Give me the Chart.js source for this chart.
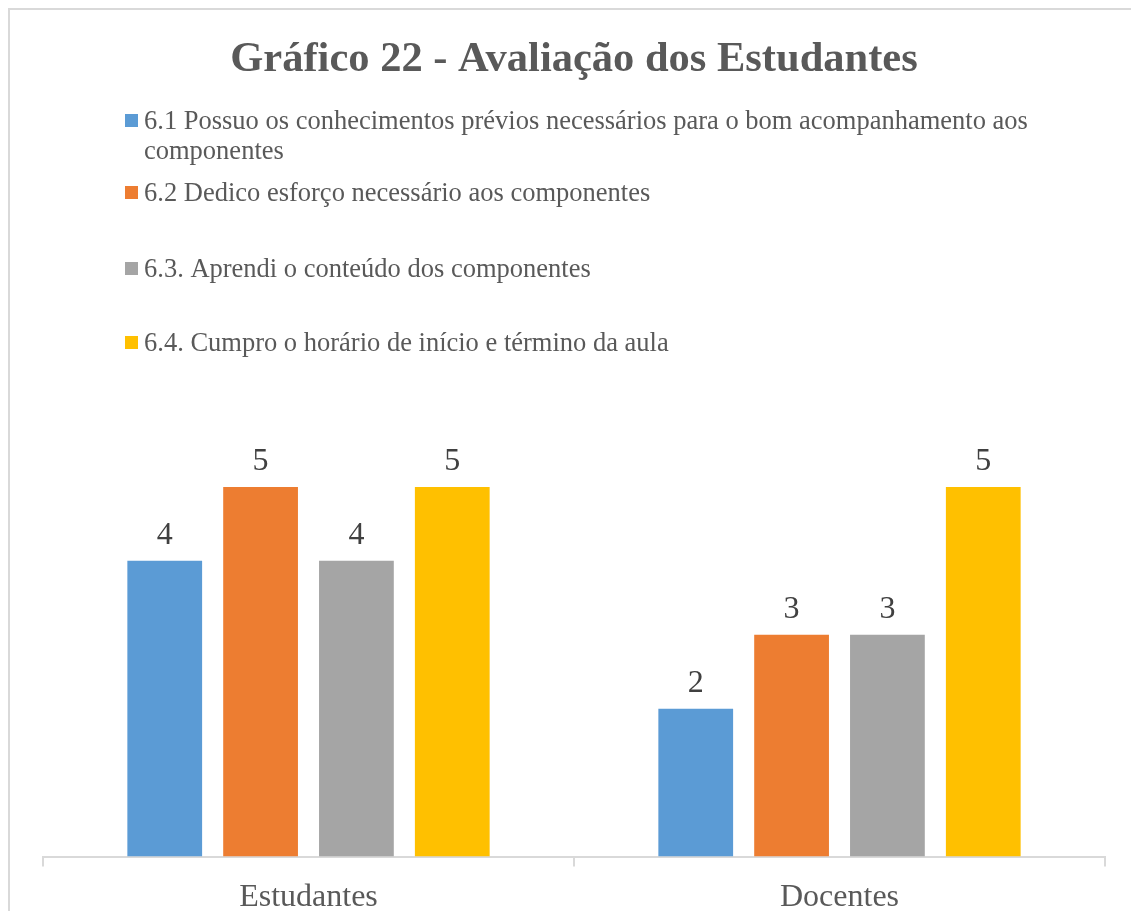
<!DOCTYPE html>
<html>
<head>
<meta charset="utf-8">
<script src="https://cdn.jsdelivr.net/npm/chart.js@4.4.0/dist/chart.umd.min.js"></script>
<style>
  html, body { margin: 0; padding: 0; background: #fff; overflow: hidden; width: 1131px; height: 911px; }
  .frame {
    position: absolute; left: 8px; top: 8px; width: 1200px; height: 1000px;
    border-left: 2px solid #d9d9d9; border-top: 2px solid #d9d9d9;
  }
  #grafico { position: absolute; left: 0; top: 0; }
</style>
</head>
<body>
<div class="frame"></div>
<canvas id="grafico" width="1131" height="929"></canvas>
<script>
// dados
let categorias = ['Estudantes', 'Docentes'];
let itens = [
  ['6.1 Possuo os conhecimentos prévios necessários para o bom acompanhamento aos', 'componentes'],
  '6.2 Dedico esforço necessário aos componentes',
  '6.3. Aprendi o conteúdo dos componentes',
  '6.4. Cumpro o horário de início e término da aula',
];
let valores61 = [4, 2];
let valores62 = [5, 3];
let valores63 = [4, 3];
let valores64 = [5, 5];
let cores = ['#5B9BD5', '#ED7D31', '#A5A5A5', '#FFC000'];

let serif = "'Liberation Serif', 'Times New Roman', serif";
Chart.defaults.font.family = serif;

// legenda desenhada à mão (lista vertical como no Excel)
const legendaPlugin = {
  id: 'legendaVertical',
  afterDraw(chart) {
    const ctx = chart.ctx;
    const baselines = [129, 201, 277, 351];
    ctx.save();
    ctx.font = '26.5px ' + serif;
    ctx.textBaseline = 'alphabetic';
    ctx.textAlign = 'left';
    chart.data.datasets.forEach((ds, i) => {
      const y = baselines[i];
      ctx.fillStyle = ds.backgroundColor;
      ctx.fillRect(125, y - 15, 13, 13);
      ctx.fillStyle = '#595959';
      const linhas = Array.isArray(ds.label) ? ds.label : [ds.label];
      linhas.forEach((txt, j) => ctx.fillText(txt, 144, y + j * 30));
    });
    ctx.restore();
  },
};

// rótulos de valor acima das barras
const rotulosPlugin = {
  id: 'rotulos',
  afterDatasetsDraw(chart) {
    const ctx = chart.ctx;
    ctx.save();
    ctx.font = '32px ' + serif;
    ctx.fillStyle = '#404040';
    ctx.textAlign = 'center';
    ctx.textBaseline = 'alphabetic';
    chart.data.datasets.forEach((ds, i) => {
      chart.getDatasetMeta(i).data.forEach((bar, j) => {
        ctx.fillText(ds.data[j], bar.x, bar.y - 17);
      });
    });
    ctx.restore();
  },
};

let series = [valores61, valores62, valores63, valores64];
let ctx = document.getElementById('grafico').getContext('2d');
new Chart(ctx, {
  type: 'bar',
  data: {
    labels: categorias,
    datasets: series.map((vals, i) => ({
      label: itens[i],
      data: vals,
      backgroundColor: cores[i],
      categoryPercentage: 0.722,
      barPercentage: 0.78,
    })),
  },
  options: {
    responsive: false,
    animation: false,
    layout: { padding: { left: 43, right: 26, top: 10, bottom: 0 } },
    plugins: {
      legend: { display: false },
      tooltip: { enabled: false },
      title: {
        display: true,
        text: 'Gráfico 22 - Avaliação dos Estudantes',
        color: '#595959',
        font: { size: 42.5, weight: 'bold', family: serif, lineHeight: 1.2 },
        padding: { top: 25, bottom: 327 },
      },
    },
    scales: {
      x: {
        grid: {
          display: true,
          offset: true,
          drawOnChartArea: false,
          drawTicks: true,
          tickLength: 10,
          color: '#d9d9d9',
          lineWidth: 2,
        },
        border: { color: '#d9d9d9', width: 2 },
        ticks: { color: '#595959', font: { size: 32, family: serif }, padding: 12 },
      },
      y: { display: false, min: 0, max: 6 },
    },
  },
  plugins: [legendaPlugin, rotulosPlugin],
});
</script>
</body>
</html>
